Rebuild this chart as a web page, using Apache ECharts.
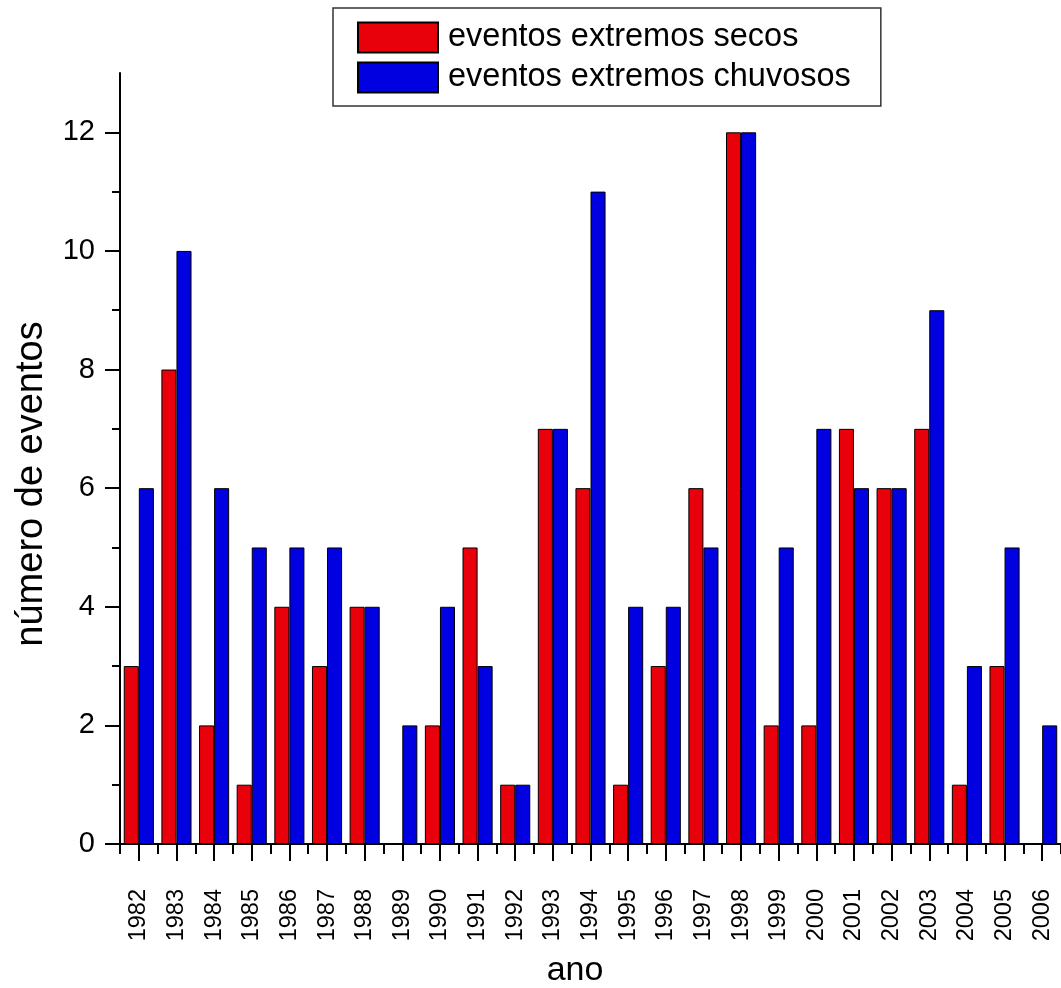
<!DOCTYPE html>
<html>
<head>
<meta charset="utf-8">
<script src="https://cdn.jsdelivr.net/npm/echarts@6/dist/echarts.min.js"></script>
<style>html,body{margin:0;padding:0;background:#fff}#c{width:1061px;height:988px}</style>
</head>
<body>
<div id="c"></div>
<script>
const years = ['1982','1983','1984','1985','1986','1987','1988','1989','1990','1991','1992','1993','1994','1995','1996','1997','1998','1999','2000','2001','2002','2003','2004','2005','2006'];
const secos =    [3, 8, 2, 1, 4, 3, 4, 0, 2, 5, 1, 7, 6, 1, 3, 6, 12, 2, 2, 7, 6, 7, 1, 3, 0];
const chuvosos = [6,10, 6, 5, 5, 5, 4, 2, 4, 3, 1, 7,11, 4, 4, 5, 12, 5, 7, 6, 6, 9, 3, 5, 2];
const majorTicks = [0, 2, 4, 6, 8, 10, 12];
const minorTicks = [1, 3, 5, 7, 9, 11];
const seriesNames = ['eventos extremos secos', 'eventos extremos chuvosos'];
const xName = 'ano';
const yName = 'número de eventos';

const chart = echarts.init(document.getElementById('c'));
const F = 'Liberation Sans, Arial, sans-serif';
chart.setOption({
  animation: false,
  backgroundColor: '#fff',
  grid: { left: 120, right: -5, top: 73, bottom: 144, containLabel: false },
  legend: {
    orient: 'vertical', left: 333, top: 8,
    padding: [13, 30, 12, 24],
    icon: 'rect',
    itemWidth: 80, itemHeight: 30, itemGap: 7,
    borderColor: '#333', borderWidth: 1.5,
    textStyle: { fontFamily: F, fontSize: 32.5, color: '#000', padding: [0, 0, 0, 5] },
    data: seriesNames
  },
  xAxis: [
    {
      type: 'category', data: years, position: 'bottom',
      axisLine: { lineStyle: { color: '#000', width: 2 } },
      axisTick: { show: true, alignWithLabel: false, length: 10, lineStyle: { color: '#000', width: 2 } },
      axisLabel: { show: false }
    },
    {
      type: 'category', data: years, position: 'bottom',
      axisLine: { show: false },
      axisTick: { show: true, alignWithLabel: true, length: 17, lineStyle: { color: '#000', width: 2 } },
      axisLabel: { rotate: 90, margin: 45, fontFamily: F, fontSize: 23.5, color: '#000', interval: 0 }
    }
  ],
  yAxis: [
    {
      type: 'value', min: 0, max: 13,
      axisLine: { show: true, lineStyle: { color: '#000', width: 2 } },
      axisTick: { show: true, length: 15, customValues: majorTicks, lineStyle: { color: '#000', width: 2 } },
      axisLabel: { customValues: majorTicks, margin: 25, fontFamily: F, fontSize: 29, color: '#000' },
      splitLine: { show: false }
    },
    {
      type: 'value', min: 0, max: 13, position: 'left',
      axisLine: { show: false },
      axisTick: { show: true, length: 8, customValues: minorTicks, lineStyle: { color: '#000', width: 2 } },
      axisLabel: { show: false },
      splitLine: { show: false }
    }
  ],
  graphic: [
    { type: 'text', x: 575, y: 971,
      style: { text: xName, font: '34px ' + F, fill: '#000', align: 'center', verticalAlign: 'middle' } },
    { type: 'text', x: 32, y: 484, rotation: Math.PI / 2,
      style: { text: yName, font: '38px ' + F, fill: '#000', align: 'center', verticalAlign: 'middle' } }
  ],
  series: [
    { name: seriesNames[0], type: 'bar', data: secos, xAxisIndex: 1, yAxisIndex: 0,
      barGap: '0%', barCategoryGap: '20%',
      itemStyle: { color: '#E8000A', borderColor: '#000', borderWidth: 1 } },
    { name: seriesNames[1], type: 'bar', data: chuvosos, xAxisIndex: 1, yAxisIndex: 0,
      barGap: '0%', barCategoryGap: '20%',
      itemStyle: { color: '#0000E0', borderColor: '#000', borderWidth: 1 } }
  ]
});
</script>
</body>
</html>
